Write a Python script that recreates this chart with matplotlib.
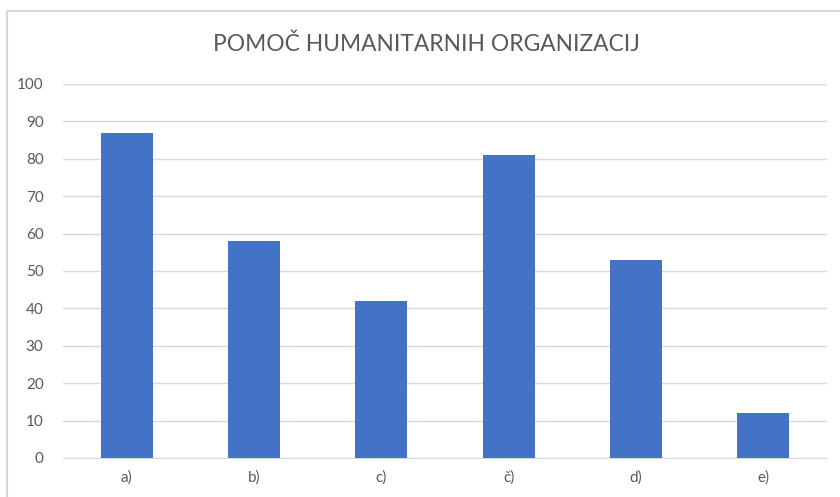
import matplotlib.pyplot as plt
from matplotlib.lines import Line2D

# chart data
categories = ['a)', 'b)', 'c)', 'č)', 'd)', 'e)']
values = [87, 58, 42, 81, 53, 12]
yticks = [0, 10, 20, 30, 40, 50, 60, 70, 80, 90, 100]

plt.rcParams['font.family'] = ['Lato', 'DejaVu Sans']

fig = plt.figure(figsize=(8.4, 4.97), dpi=100)
ax = fig.add_axes([0.075, 0.0785, 0.9095, 0.7525])

x = range(len(categories))
ax.bar(x, values, width=0.41, color='#4472C4', zorder=3)

ax.set_xlim(-0.5, len(categories) - 0.5)
ax.set_ylim(0, 100)
ax.set_yticks(yticks)
ax.set_xticks(list(x))
ax.set_xticklabels(categories)

ax.grid(axis='y', color='#D9D9D9', linewidth=1, zorder=0)
for s in ['top', 'right', 'left']:
    ax.spines[s].set_visible(False)
ax.spines['bottom'].set_color('#D9D9D9')
ax.tick_params(axis='both', length=0, labelsize=11, labelcolor='#595959')
ax.tick_params(axis='y', pad=14)
ax.tick_params(axis='x', pad=9)

# chart title
fig.text(0.508, 0.91, 'POMOČ HUMANITARNIH ORGANIZACIJ', ha='center', va='center',
         fontsize=16.4, color='#595959')

# outer chart border (top and left only visible)
fig.add_artist(Line2D([7 / 840, 1], [1 - 11 / 497, 1 - 11 / 497], color='#D9D9D9', lw=1.5))
fig.add_artist(Line2D([7 / 840, 7 / 840], [0, 1 - 11 / 497], color='#D9D9D9', lw=1.5))

plt.savefig('out.png', dpi=100)
